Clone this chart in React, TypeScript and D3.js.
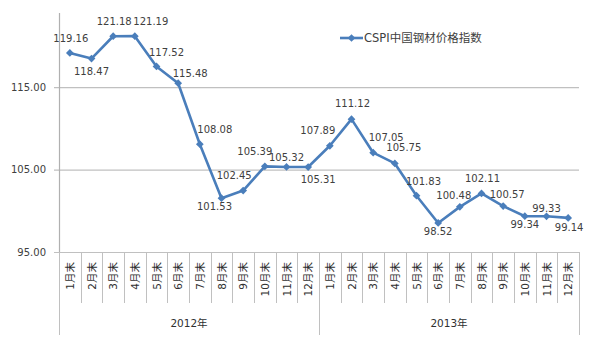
import React, { useRef, useEffect } from "react";
import * as d3 from "d3";

const years = ["2012年", "2013年"];
const months = ["1月末", "2月末", "3月末", "4月末", "5月末", "6月末", "7月末", "8月末", "9月末", "10月末", "11月末", "12月末"];
const values2012 = [119.16, 118.47, 121.18, 121.19, 117.52, 115.48, 108.08, 101.53, 102.45, 105.39, 105.32, 105.31];
const values2013 = [107.89, 111.12, 107.05, 105.75, 101.83, 98.52, 100.48, 102.11, 100.57, 99.34, 99.33, 99.14];
const yTicks = [95, 105, 115];
const seriesName = "CSPI中国钢材价格指数";

// label nudges relative to each point (dx, dy)
const labelOffsets: [number, number][] = [
  [1, -14], [0, 13], [1, -15], [16, -15], [10, -14], [12, -10],
  [15, -15], [-7, 8], [-9, -15], [-10, -15], [0, -9], [10, 12],
  [-12, -15], [1, -16], [13, -15], [9, -16], [7, -14], [0, 9],
  [-6, -11], [1, -15], [4, -12], [0, 8], [0, -8], [1, 10],
];

const W = 604;
const H = 353;
const FONT = "'DejaVu Sans', 'Noto Sans CJK SC', sans-serif";
const BLUE = "#4a7ebb";

const App = () => {
  const svgRef = useRef<SVGSVGElement>(null);

  useEffect(() => {
    const left = 59, right = 579, top = 13, bottom = 252;
    const svg = d3.select(svgRef.current);
    svg.selectAll("*").remove();

    svg.append("rect").attr("width", W).attr("height", H).attr("fill", "white");

    const data = years.flatMap((yr, yi) =>
      months.map((m, mi) => ({
        key: `${yr}-${m}`,
        year: yr,
        month: m,
        value: (yi === 0 ? values2012 : values2013)[mi],
      }))
    );

    const x = d3.scaleBand().domain(data.map((d) => d.key)).range([left, right]);
    const y = d3.scaleLinear().domain([95, 124]).range([bottom, top]);

    // gridlines + y labels
    const g = svg.append("g").attr("font-family", FONT);
    yTicks.forEach((t) => {
      g.append("line")
        .attr("x1", left - 5).attr("x2", right)
        .attr("y1", y(t) + 0.5).attr("y2", y(t) + 0.5)
        .attr("stroke", "#c0c0c0").attr("stroke-width", 1.2);
      g.append("text")
        .attr("x", left - 13).attr("y", y(t))
        .attr("dy", "0.35em")
        .attr("text-anchor", "end")
        .attr("font-size", 10)
        .attr("fill", "#404040")
        .text(t.toFixed(2));
    });

    // y axis line
    g.append("line")
      .attr("x1", left + 0.5).attr("x2", left + 0.5)
      .attr("y1", top).attr("y2", bottom)
      .attr("stroke", "#b0b0b0").attr("stroke-width", 1.2);

    // category axis: month dividers
    const monthBottom = 303, yearBottom = 335;
    data.forEach((d, i) => {
      if (i > 0 && i % 12 !== 0) {
        const xx = Math.round(x(d.key)!) + 0.5;
        g.append("line")
          .attr("x1", xx).attr("x2", xx)
          .attr("y1", bottom).attr("y2", monthBottom)
          .attr("stroke", "#c0c0c0");
      }
    });
    [0, 12, 24].forEach((i) => {
      const xx = Math.round(i < 24 ? x(data[i].key)! : right) + 0.5;
      g.append("line")
        .attr("x1", xx).attr("x2", xx)
        .attr("y1", bottom).attr("y2", yearBottom)
        .attr("stroke", "#c0c0c0");
    });

    // month labels (rotated)
    g.selectAll(".month")
      .data(data)
      .enter()
      .append("text")
      .attr("class", "month")
      .attr("transform", (d) => `translate(${x(d.key)! + x.bandwidth() / 2 + 4}, 262) rotate(-90)`)
      .attr("text-anchor", "end")
      .attr("font-size", 10.5)
      .attr("fill", "#303030")
      .text((d) => d.month);

    // year labels
    years.forEach((yr, yi) => {
      const x0 = x(data[yi * 12].key)!;
      const x1 = x(data[yi * 12 + 11].key)! + x.bandwidth();
      g.append("text")
        .attr("x", (x0 + x1) / 2).attr("y", 323)
        .attr("dy", "0.35em")
        .attr("text-anchor", "middle")
        .attr("font-size", 10.5)
        .attr("fill", "#303030")
        .text(yr);
    });

    // line
    const cx = (d: any) => x(d.key)! + x.bandwidth() / 2;
    const line = d3.line<any>().x(cx).y((d) => y(d.value));
    svg.append("path")
      .datum(data)
      .attr("d", line)
      .attr("fill", "none")
      .attr("stroke", BLUE)
      .attr("stroke-width", 2.6)
      .attr("stroke-linejoin", "round");

    const diamond = d3.symbol().type(d3.symbolSquare).size(30);
    svg.selectAll(".pt")
      .data(data)
      .enter()
      .append("path")
      .attr("class", "pt")
      .attr("d", diamond)
      .attr("transform", (d) => `translate(${cx(d)}, ${y(d.value)}) rotate(45)`)
      .attr("fill", BLUE);

    // data labels
    svg.append("g").attr("font-family", FONT)
      .selectAll("text")
      .data(data)
      .enter()
      .append("text")
      .attr("x", (d, i) => cx(d) + labelOffsets[i][0])
      .attr("y", (d, i) => y(d.value) + labelOffsets[i][1])
      .attr("dy", "0.35em")
      .attr("text-anchor", "middle")
      .attr("font-size", 10)
      .attr("fill", "#404040")
      .text((d) => d.value.toFixed(2));

    // legend
    const legend = svg.append("g").attr("transform", "translate(340, 38)");
    legend.append("line")
      .attr("x1", 0).attr("x2", 23)
      .attr("stroke", BLUE).attr("stroke-width", 2.6);
    legend.append("path")
      .attr("d", diamond)
      .attr("transform", "translate(11.5, 0) rotate(45)")
      .attr("fill", BLUE);
    legend.append("text")
      .attr("x", 24).attr("dy", "0.35em")
      .attr("font-family", FONT)
      .attr("font-size", 11.5)
      .attr("fill", "#404040")
      .text(seriesName);
  }, []);

  return (
    <svg
      ref={svgRef}
      width={W}
      height={H}
      style={{ position: "absolute", left: 0, top: 0 }}
    ></svg>
  );
};

export default App;
